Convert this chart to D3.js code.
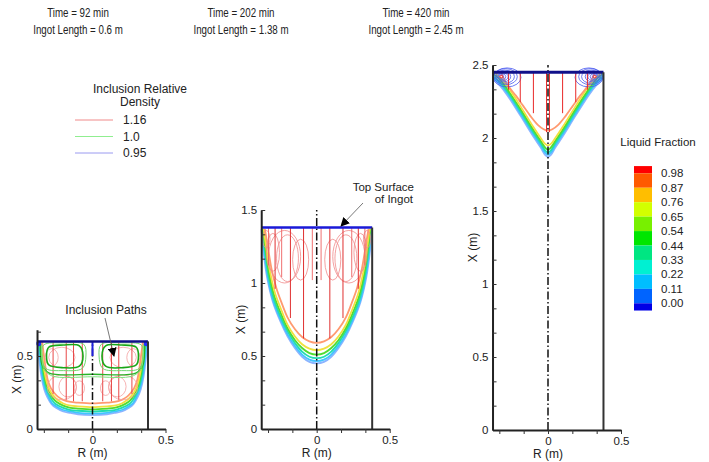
<!DOCTYPE html>
<html>
<head>
<meta charset="utf-8">
<script src="https://cdn.jsdelivr.net/npm/d3@7"></script>
<style>
  body { margin: 0; background: #fff; }
  svg { display: block; }
  text { font-family: "Liberation Sans", Arial, sans-serif; fill: #222; }
</style>
</head>
<body>
<svg id="chart" width="709" height="462"></svg>
<script>
// Ingot solidification snapshots: liquid fraction contours + inclusion paths

// ---- data ----
const titlesTime = ["Time = 92 min", "Time = 202 min", "Time = 420 min"];
const titlesLength = ["Ingot Length = 0.6 m", "Ingot Length = 1.38 m", "Ingot Length = 2.45 m"];
const ingotLength = [0.6, 1.38, 2.45];
const ingotRadius = 0.38;
const axisTop = [0.68, 1.5, 2.5];
const centerTop = [0.6, 1.5, 2.5];
const xTicks = [-1 / 3, -1 / 6, 0, 1 / 6, 1 / 3, 0.5];
const tickStep = 1 / 6;

const fractionLabels = ["0.98", "0.87", "0.76", "0.65", "0.54", "0.44", "0.33", "0.22", "0.11", "0.00"];
const fractionColors = ["#ff0000", "#ff5a00", "#ffbe00", "#d2ff00", "#78f000", "#00e600",
                        "#00e682", "#00f0d2", "#00beff", "#0064ff", "#0000e6"];

const densityLabels = ["1.16", "1.0", "0.95"];
const densityColors = ["#f08a8a", "#90ee90", "#9a9af0"];

// contour levels drawn in the pools (outer -> inner)
const contourLevels = [0.00, 0.11, 0.33, 0.54, 0.76, 0.98];

// half profiles [R, X] of each level, R >= 0
const front92 = [
  [[0, 0.095], [0.1, 0.10], [0.15, 0.11], [0.2, 0.12], [0.25, 0.145], [0.28, 0.17], [0.31, 0.22], [0.33, 0.27], [0.35, 0.36], [0.365, 0.48], [0.375, 0.6]],
  [[0, 0.105], [0.1, 0.11], [0.15, 0.12], [0.2, 0.13], [0.25, 0.155], [0.28, 0.18], [0.305, 0.23], [0.325, 0.28], [0.345, 0.37], [0.36, 0.49], [0.37, 0.6]],
  [[0, 0.12], [0.1, 0.125], [0.15, 0.13], [0.2, 0.145], [0.25, 0.17], [0.275, 0.195], [0.3, 0.24], [0.32, 0.29], [0.34, 0.38], [0.355, 0.5], [0.365, 0.6]],
  [[0, 0.135], [0.1, 0.14], [0.15, 0.145], [0.2, 0.16], [0.245, 0.185], [0.27, 0.21], [0.295, 0.25], [0.315, 0.3], [0.335, 0.39], [0.35, 0.5], [0.36, 0.6]],
  [[0, 0.15], [0.1, 0.155], [0.15, 0.16], [0.2, 0.175], [0.24, 0.2], [0.265, 0.225], [0.29, 0.26], [0.31, 0.31], [0.33, 0.4], [0.345, 0.51], [0.355, 0.6]],
  [[0, 0.175], [0.1, 0.18], [0.15, 0.185], [0.2, 0.2], [0.235, 0.22], [0.26, 0.245], [0.285, 0.28], [0.305, 0.33], [0.32, 0.41], [0.335, 0.52], [0.345, 0.6]]
];
const front202 = [
  [[0, 0.45], [0.05, 0.46], [0.1, 0.495], [0.15, 0.555], [0.2, 0.635], [0.25, 0.74], [0.3, 0.87], [0.34, 1.04], [0.365, 1.22], [0.378, 1.37]],
  [[0, 0.465], [0.05, 0.475], [0.1, 0.51], [0.15, 0.57], [0.2, 0.65], [0.25, 0.755], [0.3, 0.885], [0.335, 1.04], [0.36, 1.22], [0.375, 1.37]],
  [[0, 0.485], [0.05, 0.495], [0.1, 0.53], [0.15, 0.59], [0.2, 0.67], [0.25, 0.775], [0.295, 0.895], [0.33, 1.05], [0.355, 1.22], [0.372, 1.37]],
  [[0, 0.51], [0.05, 0.52], [0.1, 0.555], [0.15, 0.61], [0.2, 0.69], [0.245, 0.79], [0.29, 0.91], [0.325, 1.06], [0.35, 1.23], [0.368, 1.37]],
  [[0, 0.54], [0.05, 0.55], [0.1, 0.58], [0.15, 0.635], [0.2, 0.715], [0.24, 0.81], [0.285, 0.93], [0.32, 1.08], [0.345, 1.24], [0.363, 1.37]],
  [[0, 0.59], [0.05, 0.6], [0.1, 0.63], [0.15, 0.685], [0.2, 0.765], [0.235, 0.85], [0.275, 0.96], [0.31, 1.1], [0.335, 1.25], [0.355, 1.37]]
];
const front420 = [
  [[0, 1.87], [0.02, 1.885], [0.05, 1.935], [0.1, 2.01], [0.19, 2.155], [0.28, 2.295], [0.33, 2.36], [0.36, 2.39], [0.378, 2.41]],
  [[0, 1.885], [0.02, 1.9], [0.05, 1.95], [0.1, 2.025], [0.19, 2.17], [0.28, 2.31], [0.33, 2.372], [0.36, 2.4], [0.378, 2.42]],
  [[0, 1.9], [0.02, 1.915], [0.05, 1.965], [0.1, 2.04], [0.19, 2.185], [0.28, 2.322], [0.33, 2.382], [0.36, 2.41], [0.378, 2.43]],
  [[0, 1.92], [0.02, 1.935], [0.05, 1.98], [0.1, 2.055], [0.19, 2.2], [0.28, 2.336], [0.32, 2.39], [0.35, 2.42], [0.375, 2.44]],
  [[0, 1.95], [0.02, 1.96], [0.05, 2.0], [0.1, 2.075], [0.19, 2.22], [0.27, 2.342], [0.31, 2.395], [0.34, 2.425], [0.37, 2.45]],
  [[0, 2.05], [0.03, 2.06], [0.07, 2.09], [0.12, 2.15], [0.17, 2.22], [0.22, 2.29], [0.26, 2.34], [0.3, 2.4], [0.32, 2.45]]
];
const fronts = [front92, front202, front420];

// inclusion paths: vertical tracks [R, lowest X], loops [R, X, rR, rX]
const redTracks92 = [[0.07, 0.19], [0.13, 0.19], [0.18, 0.2], [0.27, 0.24]];
const redLoops92 = [[0.17, 0.29, 0.06, 0.07], [0.21, 0.285, 0.1, 0.085], [0.09, 0.28, 0.035, 0.05],
                    [0.21, 0.49, 0.09, 0.07], [0.28, 0.49, 0.045, 0.06]];
const greenCells92 = [
  [[0.06, 0.58], [0.045, 0.5], [0.07, 0.415], [0.2, 0.4], [0.32, 0.415], [0.345, 0.5], [0.335, 0.575], [0.2, 0.59]],
  [[0.09, 0.57], [0.065, 0.5], [0.09, 0.43], [0.2, 0.42], [0.3, 0.44], [0.315, 0.5], [0.3, 0.56], [0.2, 0.575]]
];
const greenSweeps92 = [
  [[-0.355, 0.58], [-0.345, 0.44], [-0.3, 0.385], [0, 0.375], [0.3, 0.385], [0.345, 0.44], [0.355, 0.58]],
  [[-0.35, 0.58], [-0.335, 0.42], [-0.28, 0.365], [0, 0.358], [0.28, 0.365], [0.335, 0.42], [0.35, 0.58]]
];
const blueLoops92 = [[0.368, 0.585, 0.01, 0.012], [0.365, 0.585, 0.005, 0.006]];

const redTracks202 = [[0.09, 0.62], [0.18, 0.76], [0.285, 0.96]];
const redShort202 = [[0.03, 1.02], [0.24, 1.04], [0.33, 1.12]];
const redLoops202 = [[0.2, 1.17, 0.075, 0.16], [0.11, 1.16, 0.055, 0.14], [0.22, 1.18, 0.11, 0.18],
                     [0.3, 1.21, 0.045, 0.13], [0.345, 1.3, 0.025, 0.06]];

const redTracks420 = [[0.01, 2.04], [0.1, 2.17], [0.19, 2.245], [0.27, 2.33]];
const blueLoops420 = [[0.28, 2.415, 0.095, 0.065], [0.29, 2.42, 0.08, 0.055], [0.295, 2.42, 0.065, 0.045],
                      [0.305, 2.42, 0.05, 0.035], [0.31, 2.42, 0.037, 0.027], [0.315, 2.42, 0.026, 0.02],
                      [0.32, 2.42, 0.016, 0.012]];
const redLoops420 = [[0.32, 2.42, 0.01, 0.008]];

// ---- layout ----
const svg = d3.select('#chart');
const k = 146;                          // px per metre
const panelR0 = [92.5, 316.7, 548];     // pixel of R = 0
const panelX0 = [429, 429, 430];        // pixel of X = 0
const contourStroke = ["#8cb4ff", "#40c4ff", "#20dcb0", "#50dc30", "#f0e040", "#ff9a70"];

const defs = svg.append('defs');
defs.append('marker')
  .attr('id', 'arrow')
  .attr('viewBox', '0 -5 10 10')
  .attr('refX', 9).attr('refY', 0)
  .attr('markerWidth', 9).attr('markerHeight', 9)
  .attr('markerUnits', 'userSpaceOnUse')
  .attr('orient', 'auto')
  .append('path').attr('d', 'M0,-5L10,0L0,5Z').attr('fill', '#000');

function mirror(pts) {
  return pts.slice().reverse().map(d => [-d[0], d[1]]).concat(pts.slice(pts[0][0] === 0 ? 1 : 0));
}

function drawPanel(i) {
  const x = d3.scaleLinear().domain([-ingotRadius, 0.5])
    .range([panelR0[i] - k * ingotRadius, panelR0[i] + k * 0.5]);
  const y = d3.scaleLinear().domain([0, axisTop[i]])
    .range([panelX0[i], panelX0[i] - k * axisTop[i]]);
  const g = svg.append('g');
  const line = d3.line().x(d => x(d[0])).y(d => y(d[1])).curve(d3.curveCatmullRom.alpha(0.5));
  const loop = d3.line().x(d => x(d[0])).y(d => y(d[1])).curve(d3.curveCatmullRomClosed.alpha(0.5));

  function ellipses(data, color, width, sides) {
    data.forEach(d => sides.forEach(s => {
      g.append('ellipse')
        .attr('cx', x(s * d[0])).attr('cy', y(d[1]))
        .attr('rx', x(d[2]) - x(0)).attr('ry', y(0) - y(d[3]))
        .attr('fill', 'none').attr('stroke', color).attr('stroke-width', width);
    }));
  }
  function tracks(data, top, color, width) {
    data.forEach(d => [-1, 1].forEach(s => {
      g.append('path').attr('d', line([[s * d[0], top], [s * d[0], d[1]]]))
        .attr('fill', 'none').attr('stroke', color).attr('stroke-width', width);
    }));
  }

  // liquid fraction contours
  fronts[i].forEach((pts, j) => {
    g.append('path').attr('d', line(mirror(pts)))
      .attr('fill', 'none').attr('stroke', contourStroke[j]).attr('stroke-width', 1.8);
  });

  const top = ingotLength[i];
  if (i === 0) {
    ellipses(redLoops92, '#f4a0a0', 0.8, [-1, 1]);
    tracks(redTracks92, top, '#e84848', 1);
    greenCells92.forEach((c, j) => [-1, 1].forEach(s => {
      g.append('path').attr('d', loop(c.map(d => [s * d[0], d[1]])))
        .attr('fill', 'none').attr('stroke', j === 0 ? '#70d870' : '#18a818').attr('stroke-width', j === 0 ? 1 : 1.6);
    }));
    greenSweeps92.forEach((c, j) => {
      g.append('path').attr('d', line(c))
        .attr('fill', 'none').attr('stroke', j === 0 ? '#28b428' : '#80e080').attr('stroke-width', j === 0 ? 1.4 : 1);
    });
    ellipses(blueLoops92, '#2030ff', 2, [-1, 1]);
  } else if (i === 1) {
    ellipses(redLoops202, '#f08a8a', 0.8, [-1, 1]);
    tracks(redShort202, top, '#ee6060', 0.9);
    tracks(redTracks202, top, '#e03030', 1);
  } else {
    ellipses(blueLoops420, '#4a5af0', 0.8, [-1, 1]);
    ellipses(redLoops420, '#ff3030', 1, [-1, 1]);
    tracks(redTracks420, top, '#e82828', 1);
  }

  // centre line
  g.append('path').attr('d', line([[0, 0], [0, centerTop[i]]]))
    .attr('stroke', '#111').attr('stroke-width', 1.5).attr('stroke-dasharray', '8,2.5,1.5,2.5');
  if (i === 0) {
    g.append('path').attr('d', line([[0, top], [0, 0.5]])).attr('stroke', '#2020e0').attr('stroke-width', 2);
  }

  // top surface and wall
  g.append('path').attr('d', line([[-ingotRadius, top], [ingotRadius, top]]))
    .attr('stroke', i === 1 ? '#1a1ad8' : '#10108a').attr('stroke-width', i === 2 ? 3 : 2.5);
  g.append('path').attr('d', line([[ingotRadius, 0], [ingotRadius, top]]))
    .attr('stroke', '#333').attr('stroke-width', 2);

  // axes
  const isMajor = d => Math.abs(d * 2 - Math.round(d * 2)) < 1e-6;
  const yTicks = d3.range(0, axisTop[i] + 1e-6, tickStep);
  const yAxis = d3.axisLeft(y).tickValues(yTicks).tickSizeInner(-4).tickSizeOuter(0).tickPadding(4)
    .tickFormat(d => isMajor(d) ? d3.format('~g')(+d.toFixed(3)) : '');
  const xAxis = d3.axisBottom(x).tickValues(xTicks).tickSizeInner(4).tickSizeOuter(0).tickPadding(3)
    .tickFormat(d => isMajor(d) ? d3.format('~g')(+d.toFixed(3)) : '');

  const ya = g.append('g').attr('transform', `translate(${x(-ingotRadius)},0)`).call(yAxis);
  const xa = g.append('g').attr('transform', `translate(0,${y(0)})`).call(xAxis);
  [ya, xa].forEach(a => {
    a.select('.domain').attr('stroke', '#222').attr('stroke-width', 2);
    a.selectAll('.tick line').attr('stroke', '#333');
    a.selectAll('text').attr('font-size', 11.5).attr('fill', '#222')
      .attr('font-family', '"Liberation Sans", Arial, sans-serif');
  });

  g.append('text').attr('x', x(0)).attr('y', y(0) + 28).attr('text-anchor', 'middle')
    .attr('font-size', 12).text('R (m)');
  g.append('text')
    .attr('transform', `translate(${x(-ingotRadius) - 16},${y(axisTop[i] / 2)}) rotate(-90)`)
    .attr('text-anchor', 'middle').attr('font-size', 12).text('X (m)');

  // titles
  const cx = [78, 241, 416][i];
  svg.append('text').attr('transform', `translate(${cx},17) scale(0.75,1)`)
    .attr('text-anchor', 'middle').attr('font-size', 13).text(titlesTime[i]);
  svg.append('text').attr('transform', `translate(${cx},34) scale(0.75,1)`)
    .attr('text-anchor', 'middle').attr('font-size', 13).text(titlesLength[i]);
}

[0, 1, 2].forEach(drawPanel);

// ---- annotations ----
svg.append('text').attr('x', 106).attr('y', 314).attr('text-anchor', 'middle')
  .attr('font-size', 12).text('Inclusion Paths');
svg.append('line').attr('x1', 105).attr('y1', 318).attr('x2', 114).attr('y2', 356)
  .attr('stroke', '#555').attr('stroke-width', 0.8).attr('marker-end', 'url(#arrow)');

svg.append('text').attr('x', 414).attr('y', 191).attr('text-anchor', 'end')
  .attr('font-size', 11.5).text('Top Surface');
svg.append('text').attr('x', 413).attr('y', 203).attr('text-anchor', 'end')
  .attr('font-size', 11.5).text('of Ingot');
svg.append('line').attr('x1', 363).attr('y1', 203).attr('x2', 341).attr('y2', 226)
  .attr('stroke', '#555').attr('stroke-width', 0.8).attr('marker-end', 'url(#arrow)');

// ---- density legend ----
svg.append('text').attr('x', 140).attr('y', 93).attr('text-anchor', 'middle')
  .attr('font-size', 12).text('Inclusion Relative');
svg.append('text').attr('x', 140).attr('y', 106).attr('text-anchor', 'middle')
  .attr('font-size', 12).text('Density');
const legendY = d3.scalePoint().domain(densityLabels).range([120, 153]);
densityLabels.forEach((lab, i) => {
  svg.append('line').attr('x1', 75).attr('x2', 113).attr('y1', legendY(lab)).attr('y2', legendY(lab))
    .attr('stroke', densityColors[i]).attr('stroke-width', 1);
  svg.append('text').attr('x', 123).attr('y', legendY(lab) + 4).attr('font-size', 12).text(lab);
});

// ---- liquid fraction colour bar ----
svg.append('text').attr('x', 658).attr('y', 146).attr('text-anchor', 'middle')
  .attr('font-size', 11.5).text('Liquid Fraction');
const barY = d3.scaleLinear().domain([0, fractionLabels.length - 1]).range([173.3, 303.3]);
fractionColors.forEach((c, j) => {
  const y0 = barY(Math.max(j - 1, -0.5));
  const y1 = barY(Math.min(j, fractionLabels.length - 0.5));
  svg.append('rect').attr('x', 634).attr('y', y0).attr('width', 18).attr('height', y1 - y0)
    .attr('fill', c);
});
fractionLabels.forEach((lab, j) => {
  svg.append('text').attr('x', 661).attr('y', barY(j) + 4).attr('font-size', 11.5).text(lab);
});
</script>
</body>
</html>
